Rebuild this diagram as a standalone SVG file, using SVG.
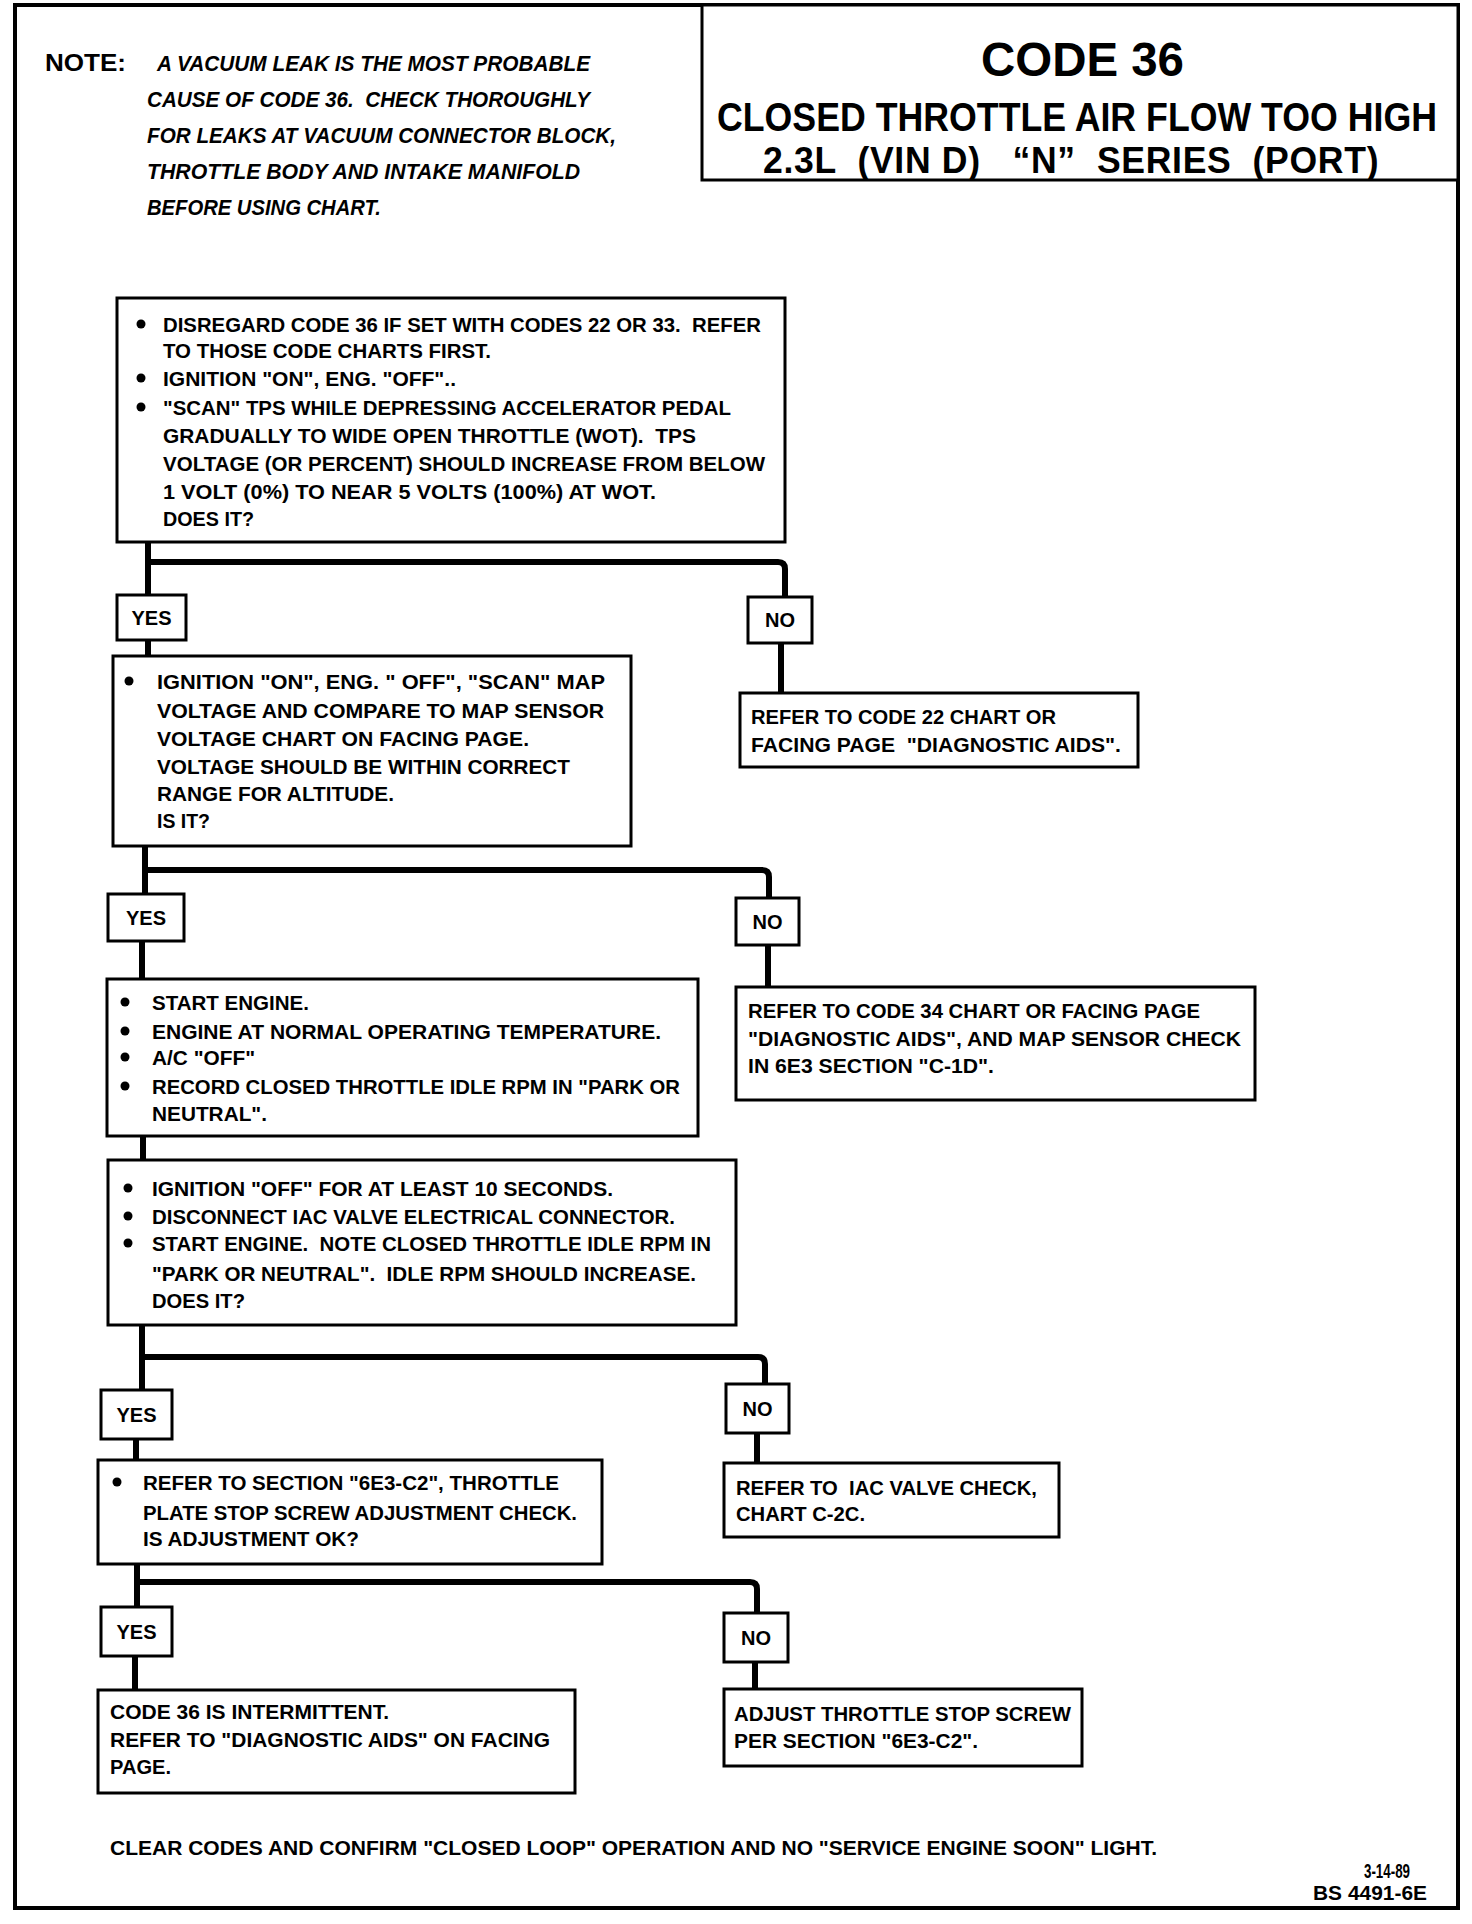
<svg xmlns="http://www.w3.org/2000/svg" width="1472" height="1924" viewBox="0 0 1472 1924">
<style>
.bg{fill:#fff}
.frame{fill:none;stroke:#000;stroke-width:4}
.box{fill:#fff;stroke:#000;stroke-width:3}
.conn{fill:none;stroke:#000;stroke-width:6;stroke-linejoin:round}
.t{font-family:"Liberation Sans",Arial,sans-serif;font-weight:bold;font-size:21px;fill:#000}
.lbl{font-family:"Liberation Sans",Arial,sans-serif;font-weight:bold;font-size:20px;fill:#000;text-anchor:middle}
.note{font-family:"Liberation Sans",Arial,sans-serif;font-weight:bold;font-style:italic;font-size:22px;fill:#000}
.title{font-family:"Liberation Sans",Arial,sans-serif;font-weight:bold;fill:#000}
</style>
<rect class="bg" x="0" y="0" width="1472" height="1924"/>
<rect class="frame" x="15" y="5" width="1443" height="1903"/>

<g id="title">
<rect class="box" x="702" y="5" width="756" height="175"/>
<text class="title" x="981" y="76" font-size="48" textLength="203" lengthAdjust="spacingAndGlyphs">CODE 36</text>
<text class="title" transform="translate(717,131) scale(0.871,1)" x="0" y="0" font-size="41">CLOSED THROTTLE AIR FLOW TOO HIGH</text>
<text class="title" transform="translate(763,173) scale(0.975,1)" x="0" y="0" font-size="36.5" letter-spacing="0.7" xml:space="preserve">2.3L  (VIN D)   “N”  SERIES  (PORT)</text>
</g>

<g id="note">
<text class="title" x="45" y="71" font-size="24" textLength="81" lengthAdjust="spacingAndGlyphs">NOTE:</text>
<text class="note" x="157" y="71" textLength="433" lengthAdjust="spacingAndGlyphs">A VACUUM LEAK IS THE MOST PROBABLE</text>
<text class="note" x="147" y="107" textLength="443" lengthAdjust="spacingAndGlyphs" xml:space="preserve">CAUSE OF CODE 36.  CHECK THOROUGHLY</text>
<text class="note" x="147" y="143" textLength="469" lengthAdjust="spacingAndGlyphs">FOR LEAKS AT VACUUM CONNECTOR BLOCK,</text>
<text class="note" x="147" y="179" textLength="433" lengthAdjust="spacingAndGlyphs">THROTTLE BODY AND INTAKE MANIFOLD</text>
<text class="note" x="147" y="215" textLength="234" lengthAdjust="spacingAndGlyphs">BEFORE USING CHART.</text>
</g>

<g id="connectors">
<path class="conn" d="M148,542 V595"/>
<path class="conn" d="M148,562 H778 Q785,562 785,569 V597"/>
<path class="conn" d="M781,643 V693"/>
<path class="conn" d="M148,640 V656"/>
<path class="conn" d="M145,846 V894"/>
<path class="conn" d="M145,870 H762 Q769,870 769,877 V898"/>
<path class="conn" d="M768,945 V987"/>
<path class="conn" d="M142,941 V979"/>
<path class="conn" d="M143,1136 V1160"/>
<path class="conn" d="M142,1325 V1390"/>
<path class="conn" d="M142,1357 H758 Q765,1357 765,1364 V1384"/>
<path class="conn" d="M757,1433 V1463"/>
<path class="conn" d="M136,1439 V1460"/>
<path class="conn" d="M137,1564 V1607"/>
<path class="conn" d="M137,1582 H750 Q757,1582 757,1589 V1613"/>
<path class="conn" d="M755,1662 V1689"/>
<path class="conn" d="M135,1656 V1690"/>
</g>

<g id="box1">
<rect class="box" x="117" y="298" width="668" height="244"/>
<circle cx="141" cy="324" r="4.5"/>
<circle cx="141" cy="378" r="4.5"/>
<circle cx="141" cy="407" r="4.5"/>
<text class="t" x="163" y="332" textLength="598" lengthAdjust="spacingAndGlyphs" xml:space="preserve">DISREGARD CODE 36 IF SET WITH CODES 22 OR 33.  REFER</text>
<text class="t" x="163" y="358" textLength="328" lengthAdjust="spacingAndGlyphs">TO THOSE CODE CHARTS FIRST.</text>
<text class="t" x="163" y="386" textLength="293" lengthAdjust="spacingAndGlyphs">IGNITION "ON", ENG. "OFF"..</text>
<text class="t" x="163" y="415" textLength="568" lengthAdjust="spacingAndGlyphs">"SCAN" TPS WHILE DEPRESSING ACCELERATOR PEDAL</text>
<text class="t" x="163" y="443" textLength="533" lengthAdjust="spacingAndGlyphs" xml:space="preserve">GRADUALLY TO WIDE OPEN THROTTLE (WOT).  TPS</text>
<text class="t" x="163" y="471" textLength="602" lengthAdjust="spacingAndGlyphs">VOLTAGE (OR PERCENT) SHOULD INCREASE FROM BELOW</text>
<text class="t" x="163" y="499" textLength="493" lengthAdjust="spacingAndGlyphs">1 VOLT (0%) TO NEAR 5 VOLTS (100%) AT WOT.</text>
<text class="t" x="163" y="526" textLength="91" lengthAdjust="spacingAndGlyphs">DOES IT?</text>
</g>

<g id="yes1">
<rect class="box" x="117" y="595" width="69" height="45"/>
<text class="lbl" x="151.5" y="625">YES</text>
</g>
<g id="no1">
<rect class="box" x="748" y="597" width="64" height="46"/>
<text class="lbl" x="780" y="627">NO</text>
</g>
<g id="ref1">
<rect class="box" x="740" y="693" width="398" height="74"/>
<text class="t" x="751" y="724" textLength="305" lengthAdjust="spacingAndGlyphs">REFER TO CODE 22 CHART OR</text>
<text class="t" x="751" y="752" textLength="370" lengthAdjust="spacingAndGlyphs" xml:space="preserve">FACING PAGE  "DIAGNOSTIC AIDS".</text>
</g>

<g id="box2">
<rect class="box" x="113" y="656" width="518" height="190"/>
<circle cx="129" cy="681" r="4.5"/>
<text class="t" x="157" y="689" textLength="448" lengthAdjust="spacingAndGlyphs">IGNITION "ON", ENG. " OFF", "SCAN" MAP</text>
<text class="t" x="157" y="718" textLength="447" lengthAdjust="spacingAndGlyphs">VOLTAGE AND COMPARE TO MAP SENSOR</text>
<text class="t" x="157" y="746" textLength="372" lengthAdjust="spacingAndGlyphs">VOLTAGE CHART ON FACING PAGE.</text>
<text class="t" x="157" y="774" textLength="413" lengthAdjust="spacingAndGlyphs">VOLTAGE SHOULD BE WITHIN CORRECT</text>
<text class="t" x="157" y="801" textLength="237" lengthAdjust="spacingAndGlyphs">RANGE FOR ALTITUDE.</text>
<text class="t" x="157" y="828" textLength="53" lengthAdjust="spacingAndGlyphs">IS IT?</text>
</g>

<g id="yes2">
<rect class="box" x="108" y="894" width="76" height="47"/>
<text class="lbl" x="146" y="925">YES</text>
</g>
<g id="no2">
<rect class="box" x="736" y="898" width="63" height="47"/>
<text class="lbl" x="767.5" y="929">NO</text>
</g>
<g id="ref2">
<rect class="box" x="736" y="987" width="519" height="113"/>
<text class="t" x="748" y="1018" textLength="452" lengthAdjust="spacingAndGlyphs">REFER TO CODE 34 CHART OR FACING PAGE</text>
<text class="t" x="748" y="1046" textLength="493" lengthAdjust="spacingAndGlyphs">"DIAGNOSTIC AIDS", AND MAP SENSOR CHECK</text>
<text class="t" x="748" y="1073" textLength="246" lengthAdjust="spacingAndGlyphs">IN 6E3 SECTION "C-1D".</text>
</g>

<g id="box3">
<rect class="box" x="107" y="979" width="591" height="157"/>
<circle cx="125" cy="1002" r="4.5"/>
<circle cx="125" cy="1031" r="4.5"/>
<circle cx="125" cy="1057" r="4.5"/>
<circle cx="125" cy="1086" r="4.5"/>
<text class="t" x="152" y="1010" textLength="157" lengthAdjust="spacingAndGlyphs">START ENGINE.</text>
<text class="t" x="152" y="1039" textLength="509" lengthAdjust="spacingAndGlyphs">ENGINE AT NORMAL OPERATING TEMPERATURE.</text>
<text class="t" x="152" y="1065" textLength="103" lengthAdjust="spacingAndGlyphs">A/C "OFF"</text>
<text class="t" x="152" y="1094" textLength="528" lengthAdjust="spacingAndGlyphs">RECORD CLOSED THROTTLE IDLE RPM IN "PARK OR</text>
<text class="t" x="152" y="1121" textLength="115" lengthAdjust="spacingAndGlyphs">NEUTRAL".</text>
</g>

<g id="box4">
<rect class="box" x="108" y="1160" width="628" height="165"/>
<circle cx="128" cy="1188" r="4.5"/>
<circle cx="128" cy="1216" r="4.5"/>
<circle cx="128" cy="1243" r="4.5"/>
<text class="t" x="152" y="1196" textLength="461" lengthAdjust="spacingAndGlyphs">IGNITION "OFF" FOR AT LEAST 10 SECONDS.</text>
<text class="t" x="152" y="1224" textLength="523" lengthAdjust="spacingAndGlyphs">DISCONNECT IAC VALVE ELECTRICAL CONNECTOR.</text>
<text class="t" x="152" y="1251" textLength="559" lengthAdjust="spacingAndGlyphs" xml:space="preserve">START ENGINE.  NOTE CLOSED THROTTLE IDLE RPM IN</text>
<text class="t" x="152" y="1281" textLength="544" lengthAdjust="spacingAndGlyphs" xml:space="preserve">"PARK OR NEUTRAL".  IDLE RPM SHOULD INCREASE.</text>
<text class="t" x="152" y="1308" textLength="93" lengthAdjust="spacingAndGlyphs">DOES IT?</text>
</g>

<g id="yes3">
<rect class="box" x="101" y="1390" width="71" height="49"/>
<text class="lbl" x="136.5" y="1422">YES</text>
</g>
<g id="no3">
<rect class="box" x="726" y="1384" width="63" height="49"/>
<text class="lbl" x="757.5" y="1416">NO</text>
</g>
<g id="ref3">
<rect class="box" x="724" y="1463" width="335" height="74"/>
<text class="t" x="736" y="1495" textLength="301" lengthAdjust="spacingAndGlyphs" xml:space="preserve">REFER TO  IAC VALVE CHECK,</text>
<text class="t" x="736" y="1521" textLength="129" lengthAdjust="spacingAndGlyphs">CHART C-2C.</text>
</g>

<g id="box5">
<rect class="box" x="98" y="1460" width="504" height="104"/>
<circle cx="117" cy="1482" r="4.5"/>
<text class="t" x="143" y="1490" textLength="416" lengthAdjust="spacingAndGlyphs">REFER TO SECTION "6E3-C2", THROTTLE</text>
<text class="t" x="143" y="1520" textLength="434" lengthAdjust="spacingAndGlyphs">PLATE STOP SCREW ADJUSTMENT CHECK.</text>
<text class="t" x="143" y="1546" textLength="216" lengthAdjust="spacingAndGlyphs">IS ADJUSTMENT OK?</text>
</g>

<g id="yes4">
<rect class="box" x="101" y="1607" width="71" height="49"/>
<text class="lbl" x="136.5" y="1639">YES</text>
</g>
<g id="no4">
<rect class="box" x="724" y="1613" width="64" height="49"/>
<text class="lbl" x="756" y="1645">NO</text>
</g>
<g id="ref4">
<rect class="box" x="724" y="1689" width="358" height="77"/>
<text class="t" x="734" y="1721" textLength="337" lengthAdjust="spacingAndGlyphs">ADJUST THROTTLE STOP SCREW</text>
<text class="t" x="734" y="1748" textLength="244" lengthAdjust="spacingAndGlyphs">PER SECTION "6E3-C2".</text>
</g>

<g id="box6">
<rect class="box" x="98" y="1690" width="477" height="103"/>
<text class="t" x="110" y="1719" textLength="279" lengthAdjust="spacingAndGlyphs">CODE 36 IS INTERMITTENT.</text>
<text class="t" x="110" y="1747" textLength="440" lengthAdjust="spacingAndGlyphs">REFER TO "DIAGNOSTIC AIDS" ON FACING</text>
<text class="t" x="110" y="1774" textLength="61" lengthAdjust="spacingAndGlyphs">PAGE.</text>
</g>

<g id="footer">
<text class="t" x="110" y="1855" textLength="1047" lengthAdjust="spacingAndGlyphs">CLEAR CODES AND CONFIRM "CLOSED LOOP" OPERATION AND NO "SERVICE ENGINE SOON" LIGHT.</text>
<text class="t" x="1364" y="1878" font-size="20" textLength="46" lengthAdjust="spacingAndGlyphs">3-14-89</text>
<text class="t" x="1313" y="1900" font-size="20" textLength="114" lengthAdjust="spacingAndGlyphs">BS 4491-6E</text>
</g>
</svg>
